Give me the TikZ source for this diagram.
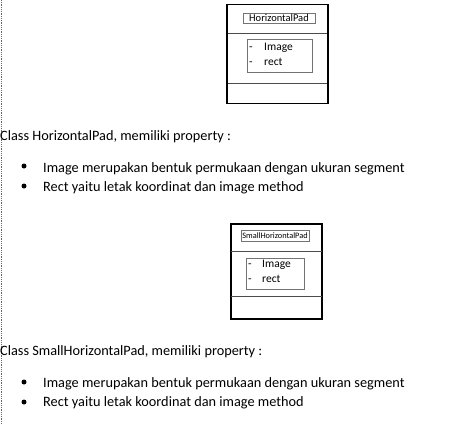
\documentclass[tikz,border=0pt]{standalone}
\usepackage{fontspec}
\setmainfont{Carlito}
\begin{document}
\begin{tikzpicture}[x=1pt,y=-1pt,
  outerbox/.style={draw=black,line width=1.6pt},
  divider/.style={draw=black!70,line width=0.8pt},
  thinbox/.style={draw=black!55,line width=0.7pt},
  para/.style={anchor=base west,inner sep=0pt,font=\fontsize{14.3}{16}\selectfont},
  boxtxt/.style={anchor=base west,inner sep=0pt,font=\fontsize{11.5}{12}\selectfont},
  bulletdot/.style={circle,fill=black,inner sep=0pt,minimum size=5pt}]
\useasboundingbox (0,0) rectangle (458,424);
\draw[black!60,densely dotted,line width=0.8pt] (1,0) -- (1,424);
% Box 1
\node[outerbox,minimum width=101pt,minimum height=99pt,inner sep=0pt] (b1) at (277.5,54) {};
\coordinate (b1d1) at (228,33); \coordinate (b1d1e) at (327,33);
\coordinate (b1d2) at (228,83); \coordinate (b1d2e) at (327,83);
\draw[divider] (b1d1) -- (b1d1e);
\draw[divider] (b1d2) -- (b1d2e);
\node[thinbox,minimum width=72pt,minimum height=10pt,inner sep=0pt,font=\fontsize{10.5}{11}\selectfont] (t1) at (279,18) {HorizontalPad};
\node[thinbox,minimum width=65pt,minimum height=33pt,inner sep=0pt] (a1) at (279.5,55.5) {};
\node[boxtxt] (a1d1) at (249,50) {-};
\node[boxtxt] (a1i) at (264,50) {Image};
\node[boxtxt] (a1d2) at (249,65) {-};
\node[boxtxt] (a1r) at (264,65) {rect};
% Text 1
\node[para] (p1) at (0,140) {Class HorizontalPad, memiliki property :};
\node[bulletdot] (bu1) at (24,166) {};
\node[para] (l1) at (43,172) {Image merupakan bentuk permukaan dengan ukuran segment};
\node[bulletdot] (bu2) at (24,186) {};
\node[para] (l2) at (43,191) {Rect yaitu letak koordinat dan image method};
% Box 2
\node[outerbox,minimum width=91pt,minimum height=95pt,inner sep=0pt] (b2) at (276.5,271.5) {};
\coordinate (b2d1) at (231,251); \coordinate (b2d1e) at (322,251);
\coordinate (b2d2) at (231,296); \coordinate (b2d2e) at (322,296);
\draw[divider] (b2d1) -- (b2d1e);
\draw[divider] (b2d2) -- (b2d2e);
\node[thinbox,minimum width=68pt,minimum height=11pt,inner sep=0pt,font=\fontsize{8.3}{9}\selectfont] (t2) at (275,235.5) {SmallHorizontalPad};
\node[thinbox,minimum width=58pt,minimum height=31pt,inner sep=0pt] (a2) at (275,273.5) {};
\node[boxtxt] (a2d1) at (248,267) {-};
\node[boxtxt] (a2i) at (262,267) {Image};
\node[boxtxt] (a2d2) at (248,282) {-};
\node[boxtxt] (a2r) at (262,282) {rect};
% Text 2
\node[para] (p2) at (0,355) {Class SmallHorizontalPad, memiliki property :};
\node[bulletdot] (bu3) at (24,382) {};
\node[para] (l3) at (43,387) {Image merupakan bentuk permukaan dengan ukuran segment};
\node[bulletdot] (bu4) at (24,402) {};
\node[para] (l4) at (43,406) {Rect yaitu letak koordinat dan image method};
\end{tikzpicture}
\end{document}
